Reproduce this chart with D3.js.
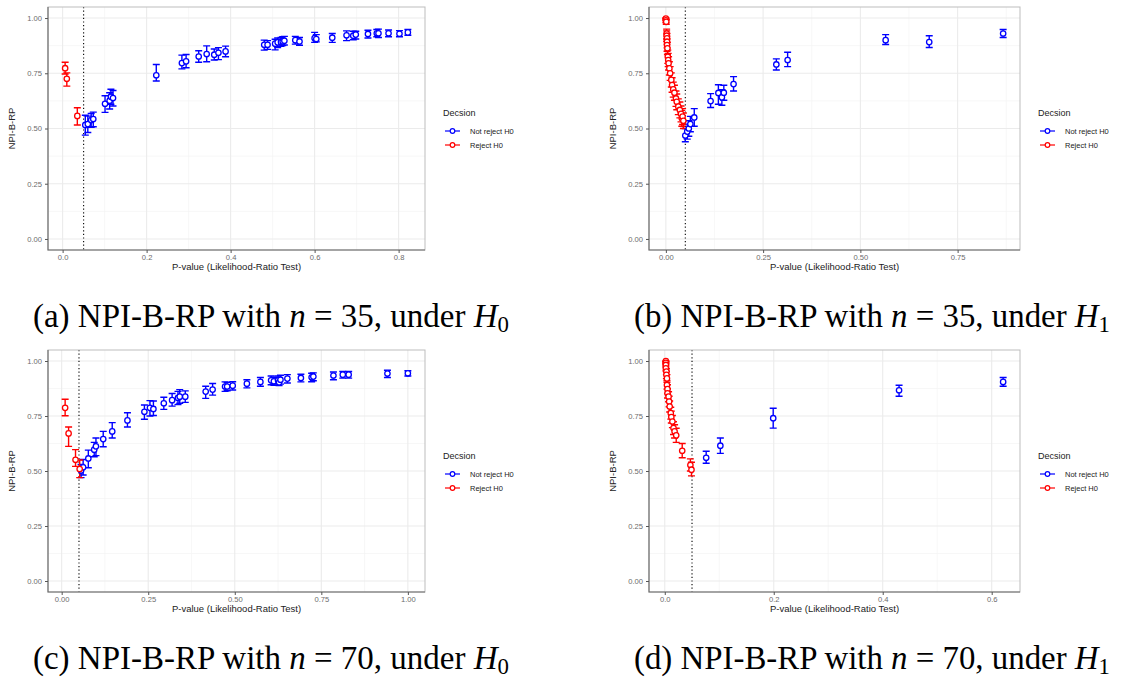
<!DOCTYPE html>
<html><head><meta charset="utf-8">
<script src="https://cdn.jsdelivr.net/npm/d3@7"></script>
<style>body{margin:0;background:#fff}</style>
</head><body>
<svg id="c" width="1133" height="680"></svg>
<script>
// ---------- DATA ----------
const decisions = ["Not reject H0", "Reject H0"];
const yTicks = [0, 0.25, 0.5, 0.75, 1];
const xTicksA = [0, 0.2, 0.4, 0.6, 0.8];
const xTicksB = [0, 0.25, 0.5, 0.75];
const xTicksC = [0, 0.25, 0.5, 0.75, 1];
const xTicksD = [0, 0.2, 0.4, 0.6];

// [p-value, NPI-B-RP, lower, upper]
const aReject = [
  [0.006, 0.773, 0.747, 0.800], [0.010, 0.725, 0.692, 0.752], [0.035, 0.557, 0.516, 0.594]
];
const aNotReject = [
  [0.054, 0.516, 0.470, 0.560], [0.060, 0.520, 0.482, 0.556], [0.068, 0.538, 0.505, 0.568],
  [0.073, 0.543, 0.508, 0.574], [0.101, 0.612, 0.573, 0.648], [0.112, 0.626, 0.588, 0.662],
  [0.115, 0.644, 0.610, 0.678], [0.120, 0.638, 0.602, 0.672], [0.223, 0.741, 0.715, 0.790],
  [0.284, 0.796, 0.770, 0.832], [0.294, 0.804, 0.775, 0.835], [0.324, 0.826, 0.800, 0.852],
  [0.343, 0.837, 0.802, 0.874], [0.361, 0.834, 0.810, 0.860], [0.371, 0.843, 0.812, 0.866],
  [0.388, 0.849, 0.825, 0.873], [0.480, 0.879, 0.855, 0.900], [0.488, 0.879, 0.858, 0.898],
  [0.506, 0.884, 0.856, 0.904], [0.512, 0.890, 0.866, 0.910], [0.520, 0.891, 0.872, 0.912],
  [0.524, 0.894, 0.875, 0.915], [0.528, 0.897, 0.878, 0.917], [0.554, 0.900, 0.882, 0.917],
  [0.564, 0.894, 0.877, 0.912], [0.600, 0.909, 0.890, 0.935], [0.604, 0.905, 0.892, 0.925],
  [0.642, 0.911, 0.890, 0.930], [0.676, 0.922, 0.898, 0.942], [0.692, 0.920, 0.902, 0.940],
  [0.698, 0.925, 0.905, 0.940], [0.727, 0.928, 0.910, 0.945], [0.748, 0.931, 0.915, 0.948],
  [0.752, 0.931, 0.912, 0.950], [0.776, 0.931, 0.915, 0.946], [0.802, 0.929, 0.915, 0.943],
  [0.822, 0.935, 0.922, 0.948]
];

const bReject = [
  [0.000, 0.998, 0.990, 1.000], [0.000, 0.990, 0.980, 0.998], [0.001, 0.983, 0.972, 0.993],
  [0.002, 0.930, 0.905, 0.950], [0.002, 0.920, 0.895, 0.942], [0.003, 0.908, 0.882, 0.930],
  [0.003, 0.893, 0.865, 0.918], [0.003, 0.878, 0.850, 0.905], [0.004, 0.863, 0.835, 0.890],
  [0.005, 0.825, 0.795, 0.855], [0.006, 0.810, 0.780, 0.840], [0.007, 0.795, 0.765, 0.825],
  [0.009, 0.772, 0.742, 0.802], [0.011, 0.750, 0.718, 0.780], [0.014, 0.720, 0.688, 0.752],
  [0.016, 0.697, 0.664, 0.730], [0.019, 0.677, 0.642, 0.710], [0.022, 0.662, 0.628, 0.696],
  [0.026, 0.636, 0.600, 0.670], [0.028, 0.621, 0.585, 0.656], [0.032, 0.599, 0.563, 0.634],
  [0.036, 0.584, 0.548, 0.620], [0.039, 0.566, 0.530, 0.602], [0.041, 0.546, 0.510, 0.582],
  [0.043, 0.554, 0.518, 0.590], [0.045, 0.535, 0.500, 0.570]
];
const bNotReject = [
  [0.050, 0.468, 0.440, 0.500], [0.055, 0.486, 0.452, 0.520], [0.059, 0.500, 0.465, 0.535],
  [0.063, 0.520, 0.485, 0.555], [0.073, 0.550, 0.510, 0.590], [0.115, 0.624, 0.595, 0.658],
  [0.135, 0.661, 0.610, 0.698], [0.144, 0.641, 0.605, 0.676], [0.149, 0.662, 0.628, 0.696],
  [0.174, 0.701, 0.670, 0.735], [0.284, 0.790, 0.765, 0.815], [0.313, 0.810, 0.780, 0.845],
  [0.565, 0.900, 0.880, 0.925], [0.677, 0.891, 0.867, 0.920], [0.867, 0.930, 0.912, 0.948]
];

const cReject = [
  [0.010, 0.787, 0.751, 0.826], [0.020, 0.671, 0.612, 0.700], [0.040, 0.551, 0.521, 0.597],
  [0.052, 0.509, 0.470, 0.550]
];
const cNotReject = [
  [0.056, 0.502, 0.470, 0.530], [0.062, 0.517, 0.482, 0.552], [0.077, 0.557, 0.515, 0.595],
  [0.094, 0.597, 0.565, 0.630], [0.099, 0.612, 0.570, 0.650], [0.120, 0.645, 0.610, 0.680],
  [0.146, 0.680, 0.650, 0.720], [0.190, 0.730, 0.700, 0.765], [0.239, 0.769, 0.735, 0.800],
  [0.255, 0.787, 0.750, 0.820], [0.265, 0.782, 0.752, 0.818], [0.295, 0.808, 0.780, 0.835],
  [0.319, 0.822, 0.795, 0.852], [0.336, 0.832, 0.802, 0.862], [0.341, 0.838, 0.808, 0.870],
  [0.357, 0.838, 0.812, 0.864], [0.416, 0.861, 0.830, 0.885], [0.436, 0.870, 0.845, 0.898],
  [0.472, 0.884, 0.862, 0.905], [0.478, 0.884, 0.865, 0.903], [0.494, 0.888, 0.868, 0.906],
  [0.535, 0.897, 0.878, 0.915], [0.574, 0.905, 0.885, 0.925], [0.605, 0.912, 0.892, 0.932],
  [0.613, 0.908, 0.890, 0.926], [0.625, 0.912, 0.895, 0.932], [0.628, 0.903, 0.888, 0.920],
  [0.632, 0.915, 0.895, 0.935], [0.652, 0.920, 0.900, 0.938], [0.691, 0.923, 0.905, 0.940],
  [0.722, 0.926, 0.906, 0.944], [0.727, 0.929, 0.910, 0.946], [0.785, 0.934, 0.915, 0.950],
  [0.812, 0.938, 0.922, 0.952], [0.829, 0.938, 0.922, 0.952], [0.941, 0.943, 0.925, 0.958],
  [1.000, 0.944, 0.932, 0.956]
];

const dReject = [
  [0.002, 1.000, 0.995, 1.000], [0.002, 0.992, 0.985, 0.998], [0.002, 0.982, 0.972, 0.990],
  [0.002, 0.967, 0.955, 0.978], [0.003, 0.952, 0.938, 0.965], [0.003, 0.937, 0.920, 0.952],
  [0.004, 0.921, 0.903, 0.938], [0.004, 0.891, 0.872, 0.910], [0.005, 0.872, 0.852, 0.892],
  [0.005, 0.853, 0.832, 0.874], [0.007, 0.838, 0.815, 0.860], [0.008, 0.816, 0.792, 0.840],
  [0.009, 0.793, 0.768, 0.818], [0.011, 0.763, 0.736, 0.790], [0.012, 0.745, 0.718, 0.772],
  [0.014, 0.725, 0.697, 0.752], [0.016, 0.695, 0.666, 0.724], [0.018, 0.680, 0.650, 0.710],
  [0.021, 0.662, 0.630, 0.694], [0.032, 0.592, 0.560, 0.625], [0.047, 0.527, 0.500, 0.555],
  [0.049, 0.506, 0.478, 0.540]
];
const dNotReject = [
  [0.076, 0.560, 0.535, 0.590], [0.102, 0.615, 0.580, 0.650], [0.199, 0.740, 0.695, 0.785],
  [0.430, 0.867, 0.840, 0.890], [0.621, 0.905, 0.885, 0.925]
];

const captions = [
  {letter: "a", n: 35, h: "0"}, {letter: "b", n: 35, h: "1"},
  {letter: "c", n: 70, h: "0"}, {letter: "d", n: 70, h: "1"}
];

// ---------- LAYOUT ----------
const colors = {"Not reject H0": "#0000FF", "Reject H0": "#FF0000"};
const panels = [
  {frame: [48, 7, 425, 250], xTicks: xTicksA, fmt: ".1f", reject: aReject, notReject: aNotReject, cap: captions[0], capPos: [33, 327]},
  {frame: [649, 7, 1020, 250], xTicks: xTicksB, fmt: ".2f", reject: bReject, notReject: bNotReject, cap: captions[1], capPos: [634, 327]},
  {frame: [48, 350, 425, 592], xTicks: xTicksC, fmt: ".2f", reject: cReject, notReject: cNotReject, cap: captions[2], capPos: [33, 669]},
  {frame: [649, 350, 1020, 592], xTicks: xTicksD, fmt: ".1f", reject: dReject, notReject: dNotReject, cap: captions[3], capPos: [634, 669]}
];

const svg = d3.select("#c");
const sans = "Liberation Sans, Arial, Helvetica, sans-serif";

function minors(ticks, dom) {
  const s = ticks[1] - ticks[0];
  const out = [];
  for (let i = -1; i < ticks.length; i++) {
    const m = ticks[0] + (i + 0.5) * s;
    if (m >= dom[0] && m <= dom[1]) out.push(m);
  }
  return out;
}

panels.forEach(P => {
  const [L, T, R, B] = P.frame;
  const all = P.reject.concat(P.notReject);
  const ext = d3.extent(all, d => d[0]);
  const pad = (ext[1] - ext[0]) * 0.05;
  const xDom = [ext[0] - pad, ext[1] + pad];
  const yDom = [-0.05, 1.05];
  const x = d3.scaleLinear().domain(xDom).range([L, R]);
  const y = d3.scaleLinear().domain(yDom).range([B, T]);
  const g = svg.append("g");

  // grid
  const yMinor = minors(yTicks, yDom), xMinor = minors(P.xTicks, xDom);
  g.selectAll(null).data(yMinor).enter().append("line")
    .attr("x1", L).attr("x2", R).attr("y1", d => y(d)).attr("y2", d => y(d))
    .attr("stroke", "#F4F4F4").attr("stroke-width", 0.7);
  g.selectAll(null).data(xMinor).enter().append("line")
    .attr("y1", T).attr("y2", B).attr("x1", d => x(d)).attr("x2", d => x(d))
    .attr("stroke", "#F4F4F4").attr("stroke-width", 0.7);
  g.selectAll(null).data(yTicks).enter().append("line")
    .attr("x1", L).attr("x2", R).attr("y1", d => y(d)).attr("y2", d => y(d))
    .attr("stroke", "#EBEBEB").attr("stroke-width", 1.1);
  g.selectAll(null).data(P.xTicks).enter().append("line")
    .attr("y1", T).attr("y2", B).attr("x1", d => x(d)).attr("x2", d => x(d))
    .attr("stroke", "#EBEBEB").attr("stroke-width", 1.1);

  // dotted significance line
  g.append("line").attr("x1", x(0.05)).attr("x2", x(0.05)).attr("y1", T).attr("y2", B)
    .attr("stroke", "#000").attr("stroke-width", 1.1).attr("stroke-dasharray", "1.2,2.4");

  // error bars then points, groups in factor order
  const groups = [[decisions[0], P.notReject], [decisions[1], P.reject]];
  const cw = 3.5;
  groups.forEach(([name, data]) => {
    const eb = g.append("g").attr("stroke", colors[name]).attr("stroke-width", 1.4).attr("fill", "none");
    eb.selectAll(null).data(data).enter().append("path")
      .attr("d", d => `M${x(d[0]) - cw},${y(d[3])}H${x(d[0]) + cw}M${x(d[0])},${y(d[3])}V${y(d[2])}M${x(d[0]) - cw},${y(d[2])}H${x(d[0]) + cw}`);
  });
  groups.forEach(([name, data]) => {
    g.selectAll(null).data(data).enter().append("circle")
      .attr("cx", d => x(d[0])).attr("cy", d => y(d[1])).attr("r", 2.7)
      .attr("fill", "#fff").attr("stroke", colors[name]).attr("stroke-width", 1.3);
  });

  // frame
  g.append("rect").attr("x", L).attr("y", T).attr("width", R - L).attr("height", B - T)
    .attr("fill", "none").attr("stroke", "#BDBDBD").attr("stroke-width", 1);
  g.append("path").attr("d", `M${L},${T}V${B}H${R}`).attr("fill", "none")
    .attr("stroke", "#6A6A6A").attr("stroke-width", 1.1);

  // axes
  const xa = g.append("g").attr("transform", `translate(0,${B})`)
    .call(d3.axisBottom(x).tickValues(P.xTicks).tickFormat(d3.format(P.fmt)).tickSize(3).tickPadding(1.5));
  const ya = g.append("g").attr("transform", `translate(${L},0)`)
    .call(d3.axisLeft(y).tickValues(yTicks).tickFormat(d3.format(".2f")).tickSize(3).tickPadding(3));
  [xa, ya].forEach(a => {
    a.select(".domain").remove();
    a.selectAll(".tick line").attr("stroke", "#555");
    a.selectAll(".tick text").attr("fill", "#6b6b6b").style("font-family", sans).style("font-size", "7.6px");
  });

  // axis titles
  g.append("text").attr("x", (L + R) / 2).attr("y", B + 19.5).attr("text-anchor", "middle")
    .style("font-family", sans).style("font-size", "9.5px").attr("fill", "#222")
    .text("P-value (Likelihood-Ratio Test)");
  g.append("text").attr("transform", `translate(${L - 33},${(T + B) / 2}) rotate(-90)`)
    .attr("text-anchor", "middle").style("font-family", sans).style("font-size", "9.5px").attr("fill", "#222")
    .text("NPI-B-RP");

  // legend
  const lx = R + 18, ly = T + 109;
  g.append("text").attr("x", lx).attr("y", ly).style("font-family", sans).style("font-size", "9px")
    .attr("fill", "#222").text("Decsion");
  decisions.forEach((name, i) => {
    const cy = ly + 15 + i * 14;
    g.append("line").attr("x1", lx + 2).attr("x2", lx + 17).attr("y1", cy).attr("y2", cy)
      .attr("stroke", colors[name]).attr("stroke-width", 1.2);
    g.append("circle").attr("cx", lx + 9.5).attr("cy", cy).attr("r", 2.3)
      .attr("fill", "#fff").attr("stroke", colors[name]).attr("stroke-width", 1.2);
    g.append("text").attr("x", lx + 27).attr("y", cy + 2.7).style("font-family", sans)
      .style("font-size", "7.5px").attr("fill", "#222").text(name);
  });

  // caption
  const c = P.cap;
  const t = svg.append("text").attr("x", P.capPos[0]).attr("y", P.capPos[1])
    .style("font-family", "Liberation Serif, Times New Roman, serif").style("font-size", "26px").attr("fill", "#000");
  t.append("tspan").text(`(${c.letter}) NPI-B-RP with `);
  t.append("tspan").style("font-style", "italic").text("n");
  t.append("tspan").text(` = ${c.n}, under `);
  t.append("tspan").style("font-style", "italic").text("H");
  t.append("tspan").attr("dy", 5).style("font-size", "18px").text(c.h);
  const w = t.node().getComputedTextLength();
  const target = 476;
  t.style("font-size", (26 * target / w) + "px");
  t.select("tspan:last-child").style("font-size", (18 * target / w) + "px");
});
</script>
</body></html>
